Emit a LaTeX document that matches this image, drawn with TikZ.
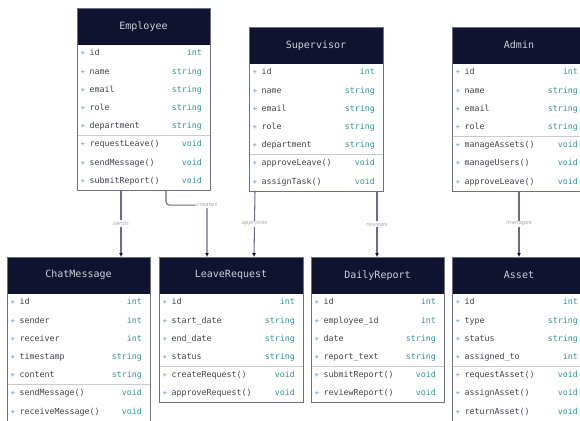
\documentclass[tikz,border=0pt]{standalone}
\usepackage{fontspec}
\setmainfont{DejaVu Sans}
\setmonofont{DejaVu Sans Mono}
\usetikzlibrary{arrows.meta,calc}
\definecolor{hdr}{HTML}{0F1330}
\definecolor{hdrtext}{HTML}{CDD0DA}
\definecolor{boxline}{HTML}{6E7186}
\definecolor{sepcol}{HTML}{C9CBD3}
\definecolor{namecol}{HTML}{40434F}
\definecolor{typecol}{HTML}{34959A}
\definecolor{pluscol}{HTML}{5A8FC8}
\definecolor{conncol}{HTML}{686D8C}
\definecolor{lblcol}{HTML}{A3A7BB}
\tikzset{
  classbox/.style={fill=white, draw=none, inner sep=0pt, outer sep=0pt},
  classhead/.style={fill=hdr, draw=hdr, inner sep=0pt, outer sep=0pt, minimum height=36.5pt,
    text=hdrtext, font=\ttfamily\fontsize{10}{12}\selectfont},
  boxborder/.style={draw=boxline, line width=0.8pt},
  sepline/.style={draw=sepcol, line width=0.8pt},
  rowtext/.style={inner sep=0pt, text height=6pt, text depth=1.5pt, font=\ttfamily\fontsize{8.3}{10}\selectfont},
  plussign/.style={rowtext, anchor=center, text=pluscol, font=\ttfamily\fontsize{7}{8}\selectfont},
  mname/.style={rowtext, anchor=west, text=namecol},
  mtype/.style={rowtext, anchor=east, text=typecol},
  conn/.style={draw=conncol, line width=1.05pt, -{Latex[length=4pt,width=4pt,color=hdr]}},
  lbl/.style={fill=white, inner sep=1pt, text=lblcol, font=\itshape\fontsize{5.5}{6.5}\selectfont}
}
% #1 name, #2 x, #3 y, #4 width, #5 title, #6 n attrs, #7 attrs, #8 n methods, #9 methods
\newcommand\umlclass[9]{%
  \pgfmathsetmacro\ubh{36.5+(#6+#8)*18.2}%
  \node[classbox, minimum width=#4pt, minimum height=\ubh pt, anchor=north west] (#1) at (#2,#3) {};
  \node[classhead, minimum width=#4pt, anchor=north west] (#1-title) at (#2,#3) {#5};
  \foreach \ua/\ub [count=\ui] in {#7} {
    \node[plussign] at (#2+6, #3+36.5+\ui*18.2-9.1) {+};
    \node[mname] at (#2+12.5, #3+36.5+\ui*18.2-9.1) {\ua};
    \node[mtype] at (#2+#4-8, #3+36.5+\ui*18.2-9.1) {\ub};
  }
  \foreach \ua/\ub [count=\ui] in {#9} {
    \node[plussign] at (#2+6, #3+36.5+#6*18.2+\ui*18.2-9.1) {+};
    \node[mname] at (#2+12.5, #3+36.5+#6*18.2+\ui*18.2-9.1) {\ua};
    \node[mtype] at (#2+#4-8, #3+36.5+#6*18.2+\ui*18.2-9.1) {\ub};
  }
  \draw[sepline] (#2, #3+36.5+#6*18.2) -- (#2+#4, #3+36.5+#6*18.2);
  \draw[boxborder] (#1.north west) rectangle (#1.south east);
}
\begin{document}
\begin{tikzpicture}[x=1pt, y=-1pt]
\useasboundingbox[fill=white] (0,0) rectangle (580,420);

\umlclass{emp}{77}{8}{133}{Employee}{5}{id/int, name/string, email/string, role/string, department/string}{3}{requestLeave()/void, sendMessage()/void, submitReport()/void}
\umlclass{sup}{249}{27}{134}{Supervisor}{5}{id/int, name/string, email/string, role/string, department/string}{2}{approveLeave()/void, assignTask()/void}
\umlclass{adm}{452}{27}{134}{Admin}{4}{id/int, name/string, email/string, role/string}{3}{manageAssets()/void, manageUsers()/void, approveLeave()/void}
\umlclass{chat}{7}{257}{143}{ChatMessage}{5}{id/int, sender/int, receiver/int, timestamp/string, content/string}{2}{sendMessage()/void, receiveMessage()/void}
\umlclass{leave}{159}{257}{144}{LeaveRequest}{4}{id/int, start\_date/string, end\_date/string, status/string}{2}{createRequest()/void, approveRequest()/void}
\umlclass{rep}{311}{257}{133}{DailyReport}{4}{id/int, employee\_id/int, date/string, report\_text/string}{2}{submitReport()/void, reviewReport()/void}
\umlclass{asset}{452}{257}{134}{Asset}{4}{id/int, type/string, status/string, assigned\_to/int}{3}{requestAsset()/void, assignAsset()/void, returnAsset()/void}

% connectors
\draw[conn] ([xshift=44pt]emp.south west) -- ([xshift=114pt]chat.north west) node[lbl, midway]{sends};
\draw[conn, rounded corners=3.5pt] ([xshift=89pt]emp.south west) -- ++(0,15) -| ([xshift=48pt]leave.north west) node[lbl, pos=0.5]{creates};
\draw[conn] ([xshift=6pt]sup.south west) -- ([xshift=95pt]leave.north west) node[lbl, midway]{approves};
\draw[conn] ([xshift=-6pt]sup.south east) -- ([xshift=66pt]rep.north west) node[lbl, midway]{reviews};
\draw[conn] (adm.south) -- (asset.north) node[lbl, midway]{manages};
\end{tikzpicture}
\end{document}
